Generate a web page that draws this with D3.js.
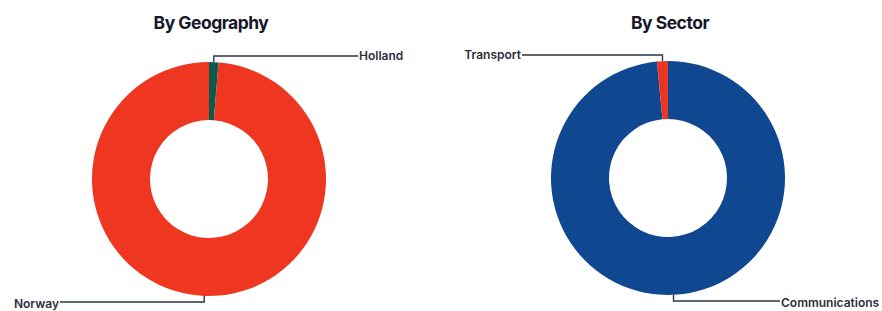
<!DOCTYPE html>
<html>
<head>
<meta charset="utf-8">
<script src="https://cdn.jsdelivr.net/npm/d3@7"></script>
<style>
  body { margin: 0; background: #fff; }
  svg { display: block; }
</style>
</head>
<body>
<div id="chart"></div>
<script>
// values (percent of total)
const geoCategories = ['Holland', 'Norway']
const geoValues = [1.3, 98.7]
const sectorCategories = ['Communications', 'Transport']
const sectorValues = [98.5, 1.5]
const titles = ['By Geography', 'By Sector']

const width = 882
const height = 311

const svg = d3.select('#chart').append('svg')
  .attr('width', width)
  .attr('height', height)

const colours = {
  Norway: '#ee3620',
  Holland: '#0b5a4c',
  Communications: '#0f4790',
  Transport: '#ec3520'
}

// label x = where the horizontal leader ends
const panels = [
  {
    title: titles[0], cx: 209, cy: 179, categories: geoCategories, values: geoValues,
    labels: { Holland: { x: 358, anchor: 'start' }, Norway: { x: 60, anchor: 'end' } }
  },
  {
    title: titles[1], cx: 668, cy: 178, categories: sectorCategories, values: sectorValues,
    labels: { Transport: { x: 522, anchor: 'end' }, Communications: { x: 780, anchor: 'start' } }
  }
]

const outerR = 117
const innerR = 59
const arc = d3.arc().innerRadius(innerR).outerRadius(outerR)
const pie = d3.pie().sort(null).value(d => d.value)

panels.forEach(p => {
  const g = svg.append('g').attr('transform', `translate(${p.cx},${p.cy})`)
  const data = p.categories.map((c, i) => ({ name: c, value: p.values[i] }))
  const arcs = pie(data)

  g.selectAll('path.slice')
    .data(arcs)
    .enter()
    .append('path')
    .attr('class', 'slice')
    .attr('d', arc)
    .attr('fill', d => colours[d.data.name])

  svg.append('text')
    .attr('x', p.cx + 2)
    .attr('y', 29)
    .attr('text-anchor', 'middle')
    .style('font-family', 'Inter, "Noto Sans", sans-serif')
    .style('font-weight', '700')
    .style('font-size', '17.5px')
    .style('letter-spacing', '-0.5px')
    .attr('fill', '#16172b')
    .text(p.title)

  arcs.forEach(a => {
    const mid = (a.startAngle + a.endAngle) / 2
    const sx = Math.sin(mid) * outerR
    const sy = -Math.cos(mid) * outerR
    const top = sy < 0
    const elbowY = top ? -outerR - 6 : outerR + 6
    const lab = p.labels[a.data.name]
    const lx = lab.x - p.cx

    g.append('path')
      .attr('d', `M${sx},${sy}V${elbowY}H${lx}`)
      .attr('fill', 'none')
      .attr('stroke', '#2b3644')
      .attr('stroke-width', 1.4)

    g.append('text')
      .attr('x', lab.anchor === 'start' ? lx + 1 : lx - 1)
      .attr('y', elbowY)
      .attr('dy', top ? '0.35em' : '0.5em')
      .attr('text-anchor', lab.anchor)
      .style('font-family', 'Inter, "Noto Sans", sans-serif')
      .style('font-weight', '600')
      .style('font-size', '12px')
      .style('letter-spacing', '0px')
      .attr('fill', '#2b2f3a')
      .text(a.data.name)
  })
})
</script>
</body>
</html>
